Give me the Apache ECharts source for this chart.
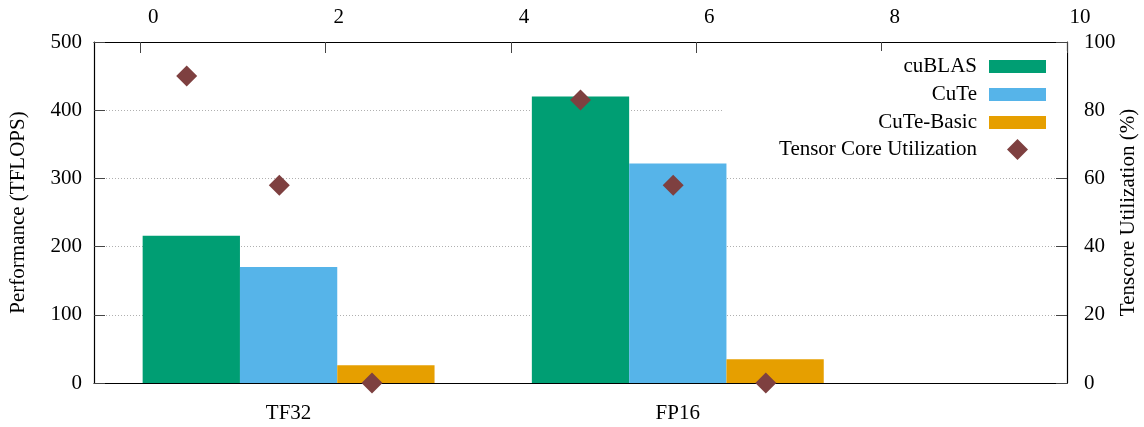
<!DOCTYPE html>
<html>
<head>
<meta charset="utf-8">
<script src="https://cdn.jsdelivr.net/npm/echarts@6/dist/echarts.min.js"></script>
<style>
html,body{margin:0;padding:0;background:#fff;}
#chart{width:1144px;height:427px;}
</style>
</head>
<body>
<div id="chart"></div>
<script>
const categories = ['TF32', 'FP16'];
const seriesNames = ['cuBLAS', 'CuTe', 'CuTe-Basic'];
const cublas = [216, 420];
const cute = [170, 322];
const cuteBasic = [26, 35];
const utilName = 'Tensor Core Utilization';
const utilX = [0.5, 1.5, 2.5, 4.75, 5.75, 6.75];
const utilY = [90, 58, 0, 83, 58, 0];
const topTicks = [0, 2, 4, 6, 8, 10];

const colors = ['#009e73', '#56b4e9', '#e69f00'];
const diamondColor = '#7e4040';
const FONT = '"Liberation Serif", "DejaVu Serif", serif';
const FS = 21;

function barSeries(name, values, slot, color) {
  return {
    type: 'custom',
    name: name,
    xAxisIndex: 0,
    yAxisIndex: 0,
    itemStyle: { color: color },
    data: values.map((v, i) => [i, v]),
    encode: { x: 0, y: 1 },
    z: 2,
    renderItem: function (params, api) {
      const cx = api.value(0) + (slot - 1) * 0.25;
      const p0 = api.coord([cx - 0.125, api.value(1)]);
      const p1 = api.coord([cx + 0.125, 0]);
      return {
        type: 'rect',
        shape: { x: p0[0], y: p0[1], width: p1[0] - p0[0], height: p1[1] - p0[1] },
        style: { fill: color }
      };
    }
  };
}

const chart = echarts.init(document.getElementById('chart'), null, { renderer: 'canvas' });
const tickStyle = { show: true, inside: true, length: 11, lineStyle: { color: '#444', width: 1 } };
const axisLineStyle = { show: true, onZero: false, lineStyle: { color: '#000', width: 1.2 } };
const labelBase = { fontFamily: FONT, fontSize: FS, color: '#000' };

chart.setOption({
  animation: false,
  backgroundColor: '#fff',
  textStyle: { fontFamily: FONT },
  grid: { left: 94, right: 77, top: 42, bottom: 44, containLabel: false, outerBoundsMode: 'none' },
  legend: [
    {
      data: seriesNames.map(n => ({ name: n, icon: 'rect' })),
      orient: 'vertical',
      align: 'right',
      right: 77,
      top: 51,
      padding: [5, 21, 27, 156],
      itemWidth: 57,
      itemHeight: 13,
      itemGap: 7,
      backgroundColor: '#fff',
      textStyle: { fontFamily: FONT, fontSize: FS, color: '#000', padding: [0, 7, 0, 0] },
      selectedMode: false,
      z: 5
    },
    {
      data: [{ name: utilName, icon: 'diamond' }],
      orient: 'vertical',
      align: 'right',
      right: 116,
      top: 139,
      padding: 0,
      itemWidth: 21,
      itemHeight: 21,
      itemStyle: { opacity: 1 },
      textStyle: { fontFamily: FONT, fontSize: FS, color: '#000', padding: [0, 25, 0, 0] },
      selectedMode: false,
      z: 6
    }
  ],
  xAxis: [
    {
      type: 'value',
      position: 'bottom',
      min: -0.5,
      max: 2.0,
      axisLine: axisLineStyle,
      axisTick: { show: false },
      splitLine: { show: false },
      axisLabel: Object.assign({}, labelBase, {
        customValues: categories.map((c, i) => i),
        formatter: v => categories[Math.round(v)] || '',
        margin: 20
      })
    },
    {
      type: 'value',
      position: 'top',
      min: -0.5,
      max: 10,
      axisLine: axisLineStyle,
      axisTick: Object.assign({}, tickStyle, { customValues: topTicks }),
      splitLine: { show: false },
      axisLabel: Object.assign({}, labelBase, {
        customValues: topTicks,
        padding: [0, 0, 0, 26],
        margin: 14
      })
    }
  ],
  yAxis: [
    {
      type: 'value',
      position: 'left',
      min: 0,
      max: 500,
      interval: 100,
      name: 'Performance (TFLOPS)',
      nameLocation: 'middle',
      nameRotate: 90,
      nameGap: 65,
      nameMoveOverlap: false,
      nameTextStyle: { fontFamily: FONT, fontSize: FS, color: '#000' },
      axisLine: axisLineStyle,
      axisTick: tickStyle,
      axisLabel: Object.assign({}, labelBase, { margin: 12 }),
      splitLine: { show: true, lineStyle: { color: '#b0b0b0', width: 1, type: [1, 2] } }
    },
    {
      type: 'value',
      position: 'right',
      min: 0,
      max: 100,
      interval: 20,
      name: 'Tenscore Utilization (%)',
      nameLocation: 'middle',
      nameRotate: 90,
      nameGap: 51,
      nameMoveOverlap: false,
      nameTextStyle: { fontFamily: FONT, fontSize: FS, color: '#000' },
      axisLine: axisLineStyle,
      axisTick: tickStyle,
      axisLabel: Object.assign({}, labelBase, { margin: 17 }),
      splitLine: { show: false }
    }
  ],
  series: [
    barSeries(seriesNames[0], cublas, 0, colors[0]),
    barSeries(seriesNames[1], cute, 1, colors[1]),
    barSeries(seriesNames[2], cuteBasic, 2, colors[2]),
    {
      type: 'scatter',
      name: utilName,
      xAxisIndex: 1,
      yAxisIndex: 1,
      symbol: 'diamond',
      symbolSize: 21,
      clip: false,
      z: 10,
      itemStyle: { color: diamondColor, opacity: 1 },
      data: utilX.map((x, i) => [x, utilY[i]])
    }
  ]
});
</script>
</body>
</html>
